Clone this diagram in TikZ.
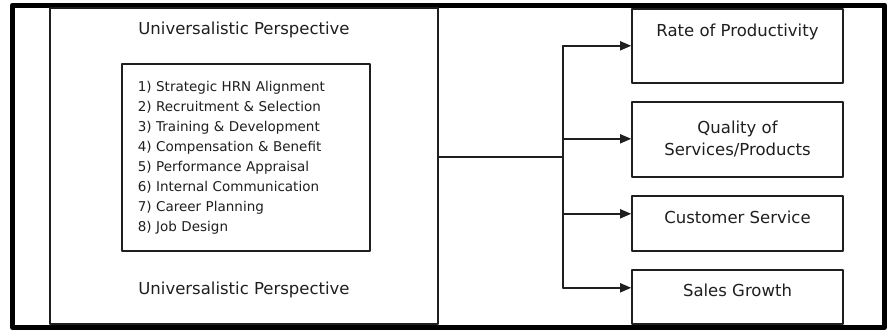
\documentclass[tikz,border=0pt]{standalone}
\usepackage{fontspec}
\setmainfont{DejaVu Sans}
\usetikzlibrary{arrows.meta}
\definecolor{dgray}{rgb}{0.12,0.12,0.12}
\tikzset{
  framebox/.style={draw=dgray,line width=1.6pt,inner sep=0pt},
  titletext/.style={font=\fontsize{16.5}{20}\selectfont,text=dgray},
  outbox/.style={framebox,minimum width=211pt,font=\fontsize{16.5}{22}\selectfont,text=dgray},
  listbox/.style={framebox,minimum height=187pt,inner xsep=16pt,text width=216pt,align=left,font=\fontsize{13.5}{20}\selectfont,text=dgray},
  link/.style={draw=dgray,line width=1.6pt}
}
\begin{document}
\begin{tikzpicture}[line cap=round,line join=round,>={Triangle[length=11pt,width=9pt]},x=1pt,y=-1pt]
    \useasboundingbox (0,0) rectangle (891,333);
    \fill[white] (0,0) rectangle (891,333);
    \draw[line width=5pt] (12.5,5) rectangle (884.5,327.5);
    \node[framebox,minimum width=388pt,minimum height=316pt] (lhs) at (244,166) {};
    \node[titletext] (toptitle) at (244,30) {Universalistic Perspective};
    \node[listbox,anchor=north west] (hrm) at (121,63) {1) Strategic HRN Alignment\\
        2) Recruitment \& Selection\\
        3) Training \& Development\\
        4) Compensation \& Benefit\\
        5) Performance Appraisal\\
        6) Internal Communication\\
        7) Career Planning\\
        8) Job Design};
    \node[titletext] (bottitle) at (244,290) {Universalistic Perspective};
    \node[outbox,anchor=north,text height=28pt,text depth=46pt] (rate) at (737.5,8) {Rate of Productivity};
    \node[outbox,anchor=north,minimum height=75pt,align=center] (quality) at (737.5,101) {Quality of\\Services/Products};
    \node[outbox,anchor=north,text height=28pt,text depth=27pt] (custom) at (737.5,195) {Customer Service};
    \node[outbox,anchor=north,text height=27pt,text depth=27pt] (sales) at (737.5,269) {Sales Growth};
    \coordinate (split) at (563,157);
    \coordinate (hqual) at ([yshift=0.5pt]quality.west);
    \coordinate (hcust) at ([yshift=9.5pt]custom.west);
    \coordinate (hsales) at ([yshift=9pt]sales.west);
    \draw[link] (split -| lhs.east) -- (split);
    \draw[link] (split |- rate.west) -- (split |- hsales);
    \foreach \t in {rate.west,hqual,hcust,hsales}
        \draw[link,->] (split |- \t) -- (\t);
\end{tikzpicture}
\end{document}
